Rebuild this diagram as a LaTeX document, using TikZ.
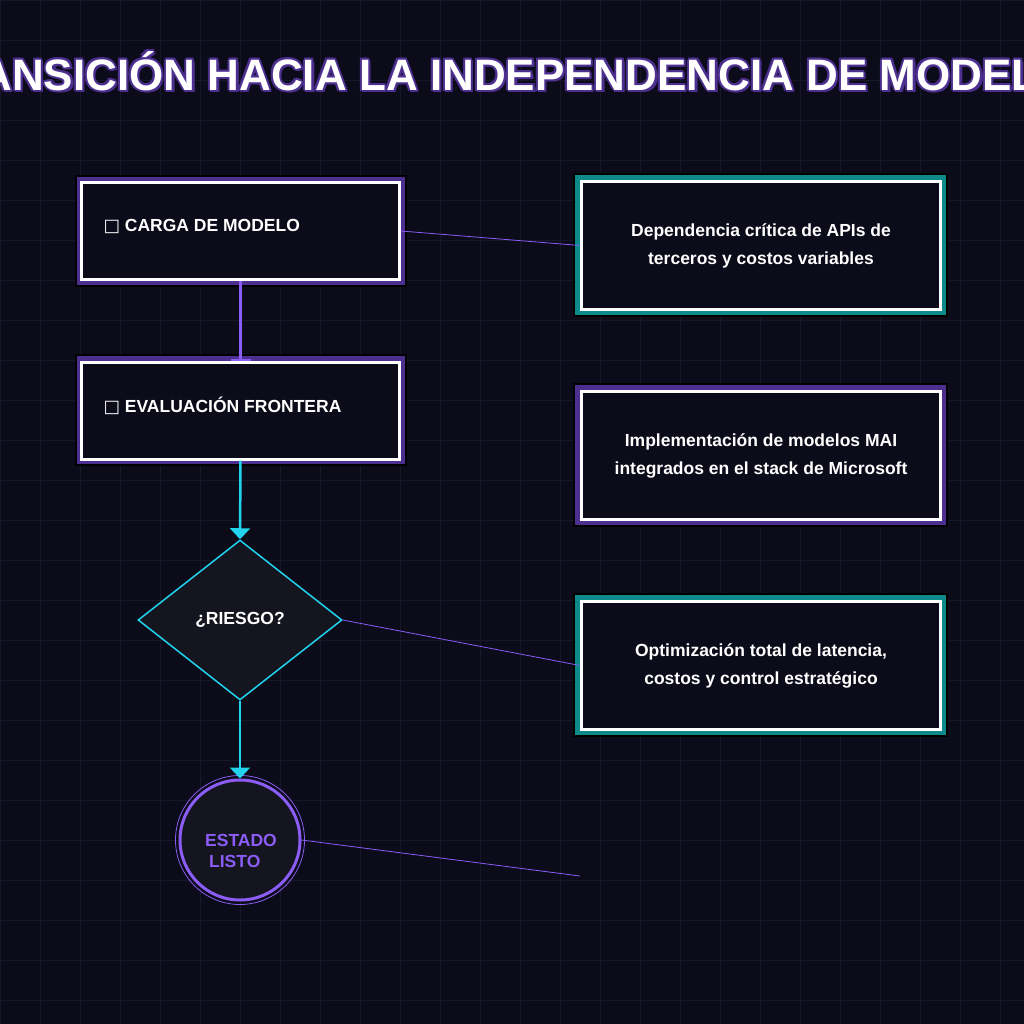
\documentclass[tikz,border=0pt]{standalone}
\usepackage{fontspec}
\setmainfont{Liberation Sans}
\newfontfamily\symfont{DejaVu Sans}
\usetikzlibrary{arrows.meta,shapes.geometric}
\definecolor{bgdark}{HTML}{0B0B1A}
\definecolor{gridc}{HTML}{17172A}
\definecolor{violet}{HTML}{8B5CF6}
\definecolor{violetdk}{HTML}{4C2F8F}
\definecolor{tealc}{HTML}{0F8A8A}
\definecolor{cyanc}{HTML}{22D3EE}
\definecolor{fillc}{HTML}{15151F}
\tikzset{
  stepbox/.style={draw=white,line width=3pt,fill=bgdark,minimum width=318pt,minimum height=97pt,text=white},
  steptext/.style={anchor=west,text=white,font=\bfseries\fontsize{17.5}{21}\selectfont},
  notebox/.style={draw=white,line width=3pt,fill=bgdark,minimum width=359pt,minimum height=128pt,
    text=white,align=center,font=\bfseries\fontsize{17.5}{28}\selectfont},
  titletext/.style={font=\bfseries\fontsize{44}{50}\selectfont},
  link/.style={violet,line width=0.8pt},
  flow/.style={cyanc,line width=2.5pt,-{Triangle[length=11pt,width=20pt]}}
}
\begin{document}
\begin{tikzpicture}[x=1pt,y=-1pt]
  \useasboundingbox (0,0) rectangle (1024,1024);
  \clip (0,0) rectangle (1024,1024);
  \fill[bgdark] (0,0) rectangle (1024,1024);
  \foreach \g in {0,40,...,1000} {
    \draw[gridc,line width=0.8pt] (\g,0) -- (\g,1024);
    \draw[gridc,line width=0.8pt] (0,\g) -- (1024,\g);
  }
  % title
  \foreach \dx/\dy in {-2/0,2/0,0/-2,0/2,-1.5/-1.5,1.5/1.5,-1.5/1.5,1.5/-1.5,2.5/2.5}
    \node[text=violetdk,titletext] at (512+\dx,71+\dy) {TRANSICIÓN HACIA LA INDEPENDENCIA DE MODELOS};
  \node[text=white,titletext] (title) at (512,71) {TRANSICIÓN HACIA LA INDEPENDENCIA DE MODELOS};
  % frames
  \foreach \y in {231,410} {
    \fill[black] (75,\y-56) rectangle (407,\y+56);
    \fill[violetdk] (77,\y-54) rectangle (405,\y+54);
  }
  \foreach \y/\c in {245/tealc,455/violetdk,665/tealc} {
    \fill[black] (573,\y-72) rectangle (948,\y+72);
    \fill[\c] (575,\y-70) rectangle (946,\y+70);
  }
  % left flow
  \node[stepbox] (load) at (240.5,231) {};
  \node[steptext] (loadtxt) at (100,226) {{\symfont □} CARGA DE MODELO};
  \node[stepbox] (eval) at (240.5,410.5) {};
  \node[steptext] (evaltxt) at (100,406) {{\symfont □} EVALUACIÓN FRONTERA};
  \node[diamond,draw=cyanc,fill=fillc,line width=1.5pt,minimum width=204pt,minimum height=160pt,inner sep=0pt,
    text=white,font=\bfseries\fontsize{17.5}{21}\selectfont] (risk) at (240,620) {¿RIESGO?};
  \node[circle,draw=violet,line width=3pt,fill=fillc,minimum size=120pt] (done) at (240,840) {};
  \node[align=left,text=violet,font=\bfseries\fontsize{17.5}{21}\selectfont] (donetxt) at (241,851) {ESTADO\\\hspace{4pt}LISTO};
  \draw[violet,line width=0.8pt] (done.center) circle (64.5pt);
  % right notes
  \node[notebox] (api) at (761,245.5) {Dependencia crítica de APIs de\\terceros y costos variables};
  \node[notebox] (mai) at (761,455.5) {Implementación de modelos MAI\\integrados en el stack de Microsoft};
  \node[notebox] (opt) at (761,665.5) {Optimización total de latencia,\\costos y control estratégico};
  \coordinate (endfree) at (580,876);
  % connectors
  \draw[violet,line width=2.2pt,-{Bar[width=20pt,line width=2pt]}] (load.south) -- (eval.north);
  \draw[flow] (eval.south) -- (risk.north);
  \draw[flow] (risk.south) -- (done.north);
  \draw[link] (load.east) -- (api.west);
  \draw[link] (risk.east) -- (opt.west);
  \draw[link] (done.east) -- (endfree);
\end{tikzpicture}
\end{document}
